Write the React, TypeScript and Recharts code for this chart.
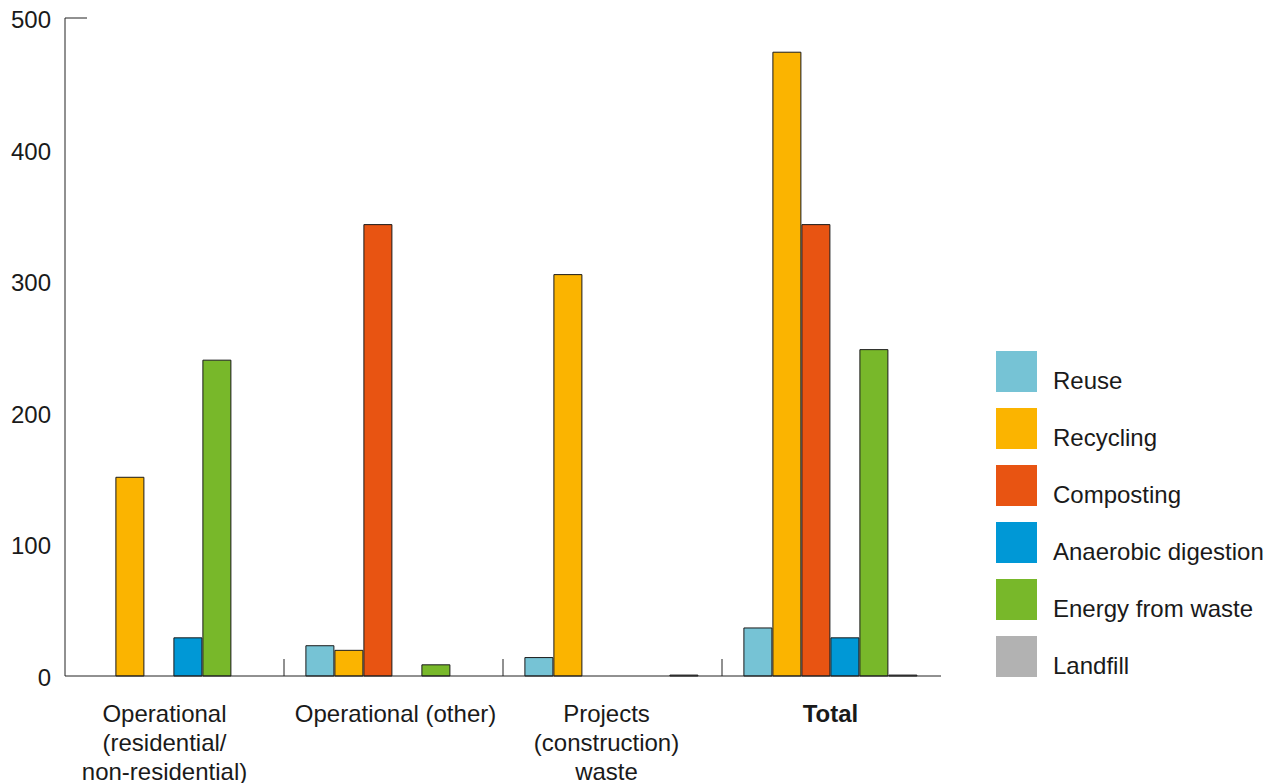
import React from 'react';
import { BarChart, Bar, XAxis, YAxis } from 'recharts';

const categories = ['Operational (residential/non-residential)', 'Operational (other)', 'Projects (construction) waste', 'Total'];
const categoryLines = [
  ['Operational', '(residential/', 'non-residential)'],
  ['Operational (other)'],
  ['Projects', '(construction)', 'waste'],
  ['Total'],
];
const reuse = [0, 23, 14, 36.5];
const recycling = [151, 19.5, 305, 474];
const composting = [0, 343, 0, 343];
const anaerobic = [29, 0, 0, 29];
const energy = [240, 8.5, 0, 248];
const landfill = [0, 0, 0.7, 0.7];
const yTicks = [0, 100, 200, 300, 400, 500];

const seriesNames = ['Reuse', 'Recycling', 'Composting', 'Anaerobic digestion', 'Energy from waste', 'Landfill'];
const seriesKeys = ['reuse', 'recycling', 'composting', 'anaerobic', 'energy', 'landfill'];
const seriesColors = ['#76C3D5', '#FBB400', '#E85412', '#0098D6', '#78B82A', '#B2B2B2'];

// small horizontal nudges of the category labels (style only)
const LABEL_DX = [-10, 2, -6, -1];

const data = categories.map((c, i) => ({
  category: c,
  reuse: reuse[i],
  recycling: recycling[i],
  composting: composting[i],
  anaerobic: anaerobic[i],
  energy: energy[i],
  landfill: landfill[i],
}));

const W = 1280;
const H = 783;
const MARGIN = { top: 18, right: 339, bottom: 0, left: 0 };
const Y_W = 65;
const X_H = 107;
const PLOT_W = W - MARGIN.right - Y_W;
const BAND = PLOT_W / categories.length;
const FONT = '"Liberation Sans", Arial, Helvetica, sans-serif';
const FS = 24;

const XTick = (props: any) => {
  const { x, y, payload, index } = props;
  const i = categories.indexOf(payload.value);
  const lines = categoryLines[i] || [payload.value];
  const tx = x + (LABEL_DX[i] || 0);
  return (
    <g>
      {index > 0 && (
        <line x1={x - BAND / 2} x2={x - BAND / 2} y1={y} y2={y - 17} stroke="#222" strokeWidth={1} />
      )}
      <text
        x={tx}
        y={y}
        textAnchor="middle"
        fontFamily={FONT}
        fontSize={FS}
        fill="#1a1a1a"
        fontWeight={i === 3 ? 'bold' : 'normal'}
      >
        {lines.map((l, k) => (
          <tspan key={k} x={tx} y={y + 46 + k * 29}>
            {l}
          </tspan>
        ))}
      </text>
    </g>
  );
};

const YTick = (props: any) => {
  const { x, y, payload } = props;
  return (
    <g>
      {payload.value === 500 && (
        <line x1={x + 14} x2={x + 36} y1={y} y2={y} stroke="#222" strokeWidth={1} />
      )}
      <text x={x} y={y + 10} textAnchor="end" fontFamily={FONT} fontSize={FS} fill="#1a1a1a">
        {payload.value}
      </text>
    </g>
  );
};

const LegendBox = () => (
  <div style={{ position: 'absolute', left: 996, top: 351, fontFamily: FONT, fontSize: FS, color: '#1a1a1a' }}>
    {seriesNames.map((n, i) => (
      <div key={n} style={{ position: 'relative', height: 57, width: 284 }}>
        <div style={{ position: 'absolute', left: 0, top: 0, width: 41, height: 41, background: seriesColors[i] }} />
        <div style={{ position: 'absolute', left: 57, top: 18, lineHeight: '24px', whiteSpace: 'nowrap' }}>{n}</div>
      </div>
    ))}
  </div>
);

export default function App() {
  return (
    <div style={{ position: 'absolute', left: 0, top: 0, width: W, height: H, background: '#fff' }}>
      <BarChart
        width={W}
        height={H}
        data={data}
        margin={MARGIN}
        barCategoryGap="10%"
        barGap={1}
      >
        <XAxis
          dataKey="category"
          height={X_H}
          axisLine={{ stroke: '#222', strokeWidth: 1 }}
          tickLine={false}
          tickSize={0}
          tickMargin={0}
          tick={<XTick />}
          interval={0}
        />
        <YAxis
          width={Y_W}
          domain={[0, 500]}
          ticks={yTicks}
          axisLine={{ stroke: '#222', strokeWidth: 1 }}
          tickLine={false}
          tickSize={0}
          tickMargin={14}
          tick={<YTick />}
          interval={0}
        />
        {seriesKeys.map((k, i) => (
          <Bar
            key={k}
            dataKey={k}
            name={seriesNames[i]}
            fill={seriesColors[i]}
            stroke="#1a1a1a"
            strokeWidth={1}
            isAnimationActive={false}
          />
        ))}
      </BarChart>
      <LegendBox />
    </div>
  );
}
